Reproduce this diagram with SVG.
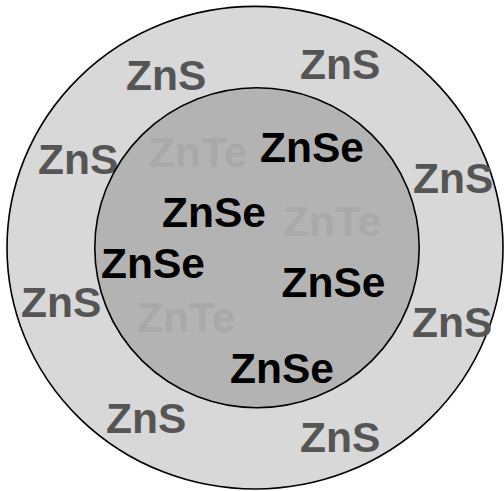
<svg xmlns="http://www.w3.org/2000/svg" width="504" height="491" viewBox="0 0 504 491">
<style>
text{font-family:"Liberation Sans",Arial,sans-serif;font-weight:bold;font-size:42.5px}
.s{fill:#555555}
.se{fill:#000000}
.te{fill:#a9a9a9}
</style>
<rect width="504" height="491" fill="#ffffff"/>
<g id="shell">
<ellipse cx="255" cy="247.7" rx="248" ry="241.3" fill="#d8d8d8" stroke="#000" stroke-width="1.6"/>
<text class="s" x="126" y="90">ZnS</text>
<text class="s" x="300" y="79">ZnS</text>
<text class="s" x="38" y="174">ZnS</text>
<text class="s" x="413" y="193">ZnS</text>
<text class="s" x="21" y="317">ZnS</text>
<text class="s" x="412" y="337">ZnS</text>
<text class="s" x="106" y="433">ZnS</text>
<text class="s" x="300" y="452">ZnS</text>
</g>
<g id="core">
<ellipse cx="257" cy="247.7" rx="162.2" ry="160" fill="#b3b3b3" stroke="#000" stroke-width="1.6"/>
<text class="te" x="149" y="166.5">ZnTe</text>
<text class="te" x="283" y="236">ZnTe</text>
<text class="te" x="137" y="332">ZnTe</text>
<text class="se" x="260" y="161.5">ZnSe</text>
<text class="se" x="162" y="226.5">ZnSe</text>
<text class="se" x="101" y="278">ZnSe</text>
<text class="se" x="281.5" y="296.5">ZnSe</text>
<text class="se" x="230" y="383">ZnSe</text>
</g>
</svg>
